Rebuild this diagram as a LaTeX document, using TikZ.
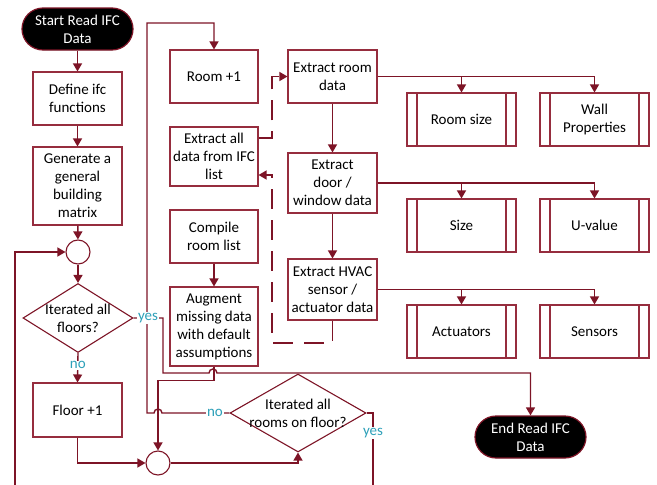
\documentclass[tikz,border=0pt]{standalone}
\usepackage{fontspec}
\setmainfont{Carlito}
\usetikzlibrary{arrows.meta,shapes.geometric,calc}
\definecolor{lnk}{RGB}{125,20,38}
\definecolor{bdr}{RGB}{150,45,62}
\definecolor{lbl}{RGB}{45,160,185}
\begin{document}
\begin{tikzpicture}[x=1pt,y=-1pt,
 every node/.style={font=\fontsize{15}{18}\selectfont},
 box/.style={draw=bdr,line width=1.1pt,minimum width=89pt,align=center,inner sep=1pt},
 sub/.style={box,minimum width=109pt,minimum height=53pt,
   path picture={\draw[bdr,line width=1.1pt] ([xshift=10pt]path picture bounding box.north west) -- ([xshift=10pt]path picture bounding box.south west);
                 \draw[bdr,line width=1.1pt] ([xshift=-10pt]path picture bounding box.north east) -- ([xshift=-10pt]path picture bounding box.south east);}},
 term/.style={draw=lnk,line width=1.2pt,fill=black,text=white,rounded corners=21pt,minimum width=111pt,minimum height=42pt,align=center,inner sep=1pt},
 circ/.style={circle,draw=lnk,line width=1.1pt,minimum size=24pt,inner sep=0pt},
 dia/.style={diamond,draw=lnk,line width=1.1pt,inner sep=0pt},
 conn/.style={draw=lnk,line width=1.4pt},
 arr/.style={conn,-{Triangle[length=8pt,width=9pt]}},
 lab/.style={text=lbl,fill=white,inner sep=1pt},
 dsh/.style={conn,dash pattern=on 20pt off 11pt}
]
\useasboundingbox (0,0) rectangle (657,485);

% left column
\node[term] (start) at (77.5,29) {Start Read IFC\\Data};
\node[box,minimum height=53pt] (def) at (77.5,98.5) {Define ifc\\functions};
\node[box,minimum height=78pt] (gen) at (77.5,186) {Generate a\\general\\building\\matrix};
\node[circ] (circ1) at (78,252) {};
\node[dia,minimum width=110pt,minimum height=69pt,
  label={[align=center]center:{Iterated all\\floors?}}] (dia1) at (78,318) {};
\node[box,minimum height=54pt] (floor) at (77.5,410) {Floor +1};
\node[circ] (circ2) at (158,463) {};

% middle column
\node[box,minimum width=88pt,minimum height=53pt] (room) at (214,76.5) {Room +1};
\node[box,minimum width=88pt,minimum height=59pt] (extall) at (214,156.5) {Extract all\\data from IFC\\list};
\node[box,minimum width=88pt,minimum height=53pt] (compile) at (214,236.5) {Compile\\room list};
\node[box,minimum width=88pt,minimum height=79pt] (augment) at (214,326.5) {Augment\\missing data\\with default\\assumptions};
\node[dia,minimum width=136pt,minimum height=78pt,
  label={[align=center]center:{Iterated all\\rooms on floor?}}] (dia2) at (298,413) {};

% extract column
\node[box,minimum height=53pt] (exroom) at (332.5,76.5) {Extract room\\data};
\node[box,minimum height=60pt] (exdoor) at (332.5,183) {Extract\\door /\\window data};
\node[box,minimum height=61pt] (exhvac) at (332.5,289.5) {Extract HVAC\\sensor /\\actuator data};

% subprocesses
\node[sub] (roomsize) at (461.5,119.5) {Room size};
\node[sub] (wall) at (594.5,119.5) {Wall\\Properties};
\node[sub] (size) at (461.5,225.5) {Size};
\node[sub] (uval) at (594.5,225.5) {U-value};
\node[sub] (act) at (461.5,331.5) {Actuators};
\node[sub] (sens) at (594.5,331.5) {Sensors};

\node[term] (end) at (530.5,437) {End Read IFC\\Data};

% coordinates
\coordinate (lb) at (15,485);
\coordinate (y1) at (163,318);
\coordinate (y2) at (163,373);
\coordinate (h1) at (209,373);
\coordinate (n1) at (162,413);
\coordinate (n2) at (147,413);
\coordinate (n3) at (147,23);
\coordinate (r1) at (373,413);
\coordinate (r2) at (373,485);
\coordinate (dA) at (272,138);
\coordinate (dB) at (272,76.5);
\coordinate (dC) at (332.5,343);
\coordinate (dD) at (272,343);
\coordinate (dE) at (272,175);

% left connectors
\draw[arr] (start) -- (def);
\draw[arr] (def) -- (gen);
\draw[arr] (gen) -- (circ1);
\draw[arr] (circ1) -- (dia1);
\draw[arr] (dia1.south) -- (floor.north) node[lab,pos=0.42] (no1) {no};
\draw[arr] (floor.south) |- (circ2.west);
\draw[arr] (lb) |- (circ1.west);

% loop from rooms decision (no)
\draw[arr] (dia2.west) -- (n1) arc[start angle=0,end angle=180,radius=4pt] -- (n2) -- (n3) -| (room.north);
\node[lab] (no2) at (215,413) {no};

% yes from floors decision
\draw[arr] (dia1.east) -- (y1) -- (y2) -- (h1) arc[start angle=180,end angle=0,radius=4pt] -- (end.north |- y2) -- (end.north);
\node[lab] (yes1) at (148,318) {yes};

% augment to circle 2
\draw[arr] (compile) -- (augment);
\draw[arr] (augment.south) -- ++(0,14) -| (circ2.north);
\draw[arr] (circ2.east) -| (dia2.south);

% yes from rooms decision
\draw[conn] (dia2.east) -- (r1) -- (r2);
\node[lab] (yes2) at (373,433) {yes};

% dashed links
\draw[dsh,-{Triangle[length=8pt,width=9pt]}] ([yshift=18.5pt]extall.east) -- (dA) -- (dB) -- (exroom.west);
\draw[dsh,-{Triangle[length=8pt,width=9pt]}] (exhvac.south) -- (dC) -- (dD) -- (dE) -- ([yshift=-18.5pt]extall.east);

% extract chain
\draw[arr] (exroom) -- (exdoor);
\draw[arr] (exdoor) -- (exhvac);
\draw[arr] (exroom.east) -| (roomsize.north);
\draw[arr] (exroom.east) -| (wall.north);
\draw[arr] (exdoor.east) -| (size.north);
\draw[arr] (exdoor.east) -| (uval.north);
\draw[arr] (exhvac.east) -| (act.north);
\draw[arr] (exhvac.east) -| (sens.north);
\end{tikzpicture}
\end{document}
